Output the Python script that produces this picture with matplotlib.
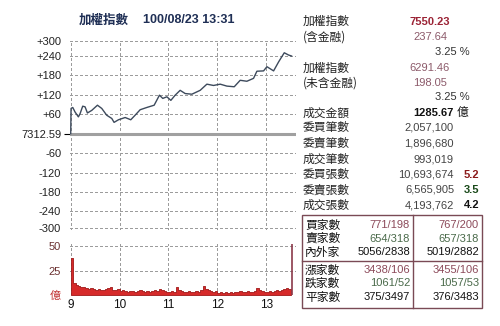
import matplotlib
matplotlib.use("Agg")
import matplotlib.pyplot as plt
from matplotlib.patches import Rectangle
from matplotlib.lines import Line2D
import numpy as np

# index line: minutes after 9:00 and change vs. previous close (7312.59)
idx_min = [0, 0.4, 2.5, 5.3, 9.4, 11.5, 14.7, 17.6, 20.5, 25.8, 32.8, 38.1, 44.2,
           50.4, 53.2, 58.6, 66.8, 73.7, 79.0, 85.2, 93.4, 102.4, 108.9, 113.0,
           118.0, 122.9, 128.2, 134.3, 140.5, 148.7, 158.9, 167.1, 175.3, 183.5,
           191.7, 200.7, 208.0, 216.2, 224.4, 228.5, 236.7, 240.8, 249.0, 255.2,
           262.1, 267.4, 271.0]
idx_chg = [0, 78, 81, 67, 52, 62, 85, 83, 64, 72, 88, 78, 57, 47, 35, 43, 50, 43,
           57, 74, 81, 88, 119, 109, 114, 103, 119, 134, 124, 122, 134, 153, 149,
           153, 147, 145, 165, 162, 171, 193, 194, 207, 194, 222, 250, 243, 240]

# volume (億) in 3-minute steps from 9:00, plus closing auction
vol = [38, 12, 10, 9, 8, 8, 7, 6, 7, 6,
       5, 6, 5, 5, 6, 7, 8, 5, 5, 6,
       4, 5, 4, 3, 4, 4, 3, 4, 5, 4,
       3, 4, 3, 4, 5, 4, 6, 5, 4, 3,
       3, 4, 3, 8, 5, 4, 3, 3, 4, 3,
       3, 4, 3, 5, 9, 6, 5, 4, 3, 4,
       2, 3, 2, 3, 2, 3, 2, 3, 3, 4,
       3, 3, 4, 3, 3, 4, 7, 5, 4, 3,
       3, 4, 3, 4, 5, 4, 5, 6, 7, 6]
close_vol = 52
close_min = 271

prev_close = "7312.59"
up_ticks = [287, 240, 180, 120, 60, 0, -60, -120, -180, -240, -292]
up_labels = ["+300", "+240", "+180", "+120", "+60", prev_close,
             "-60", "-120", "-180", "-240", "-300"]
hour_pos = [0, 60, 120, 180, 240]
hours = ["9", "10", "11", "12", "13"]

quote_rows = [("加權指數", "7550.23"), ("(含金融)", "237.64"), ("", "3.25 %"),
              ("加權指數", "6291.46"), ("(未含金融)", "198.05"), ("", "3.25 %")]
count_rows = [("委買筆數", "2,057,100", ""), ("委賣筆數", "1,896,680", ""),
              ("成交筆數", "993,019", ""), ("委買張數", "10,693,674", "5.2"),
              ("委賣張數", "6,565,905", "3.5"), ("成交張數", "4,193,762", "4.2")]
box_rows = [("買家數", "771/198", "767/200"), ("賣家數", "654/318", "657/318"),
            ("內外家", "5056/2838", "5019/2882"), ("漲家數", "3438/106", "3455/106"),
            ("跌家數", "1061/52", "1057/53"), ("平家數", "375/3497", "376/3483")]

W, H = 500, 326
CJK = ["Noto Sans CJK TC", "DejaVu Sans"]
NUM = "Liberation Sans"
GRID = "#9c9c9c"

fig = plt.figure(figsize=(W / 100, H / 100), dpi=100)
fig.patch.set_facecolor("white")


def px(x, y):
    return x / W, 1 - y / H


def ax_at(l, t, r, b):
    return fig.add_axes([l / W, 1 - b / H, (r - l) / W, (b - t) / H])


def dashed_grid(a, xs, ys):
    x0, x1 = a.get_xlim()
    y0, y1 = a.get_ylim()
    for x in xs:
        a.plot([x, x], [y0, y1], color=GRID, lw=1.0, ls="--", dashes=(2, 1.6),
               antialiased=False, zorder=2)
    for y in ys:
        a.plot([x0, x1], [y, y], color=GRID, lw=1.0, ls="--", dashes=(2, 1.6),
               antialiased=False, zorder=2)
    a.set_xlim(x0, x1)
    a.set_ylim(y0, y1)


# ---- upper panel: index line
ax = ax_at(69.5, 39.5, 296, 229.5)
ax.set_xlim(-1.5, 276.5)
ax.set_ylim(-296, 291)
for s in ax.spines.values():
    s.set_visible(False)
ax.set_xticks([])
ax.set_yticks(up_ticks)
ax.set_yticklabels(up_labels, fontsize=8, family=NUM, color="#222222")
ax.tick_params(axis="y", length=0, pad=6)
ax.yaxis.get_major_ticks()[5].tick1line.set_markersize(4)
ax.yaxis.get_major_ticks()[5].tick1line.set_color("#333333")
dashed_grid(ax, hour_pos, [t for t in up_ticks if t != 0])
ax.axhline(0, color="#a0a0a0", lw=2.2, zorder=3)
ax.plot(idx_min, idx_chg, color="#3d4a5c", lw=1.0, zorder=4)

# ---- lower panel: volume
bx = ax_at(69.5, 244, 296, 295)
bx.set_xlim(-1.5, 276.5)
bx.set_ylim(0, 52.5)
for s in bx.spines.values():
    s.set_visible(False)
dashed_grid(bx, hour_pos, [25, 50])
vt = np.arange(len(vol)) * 3
bx.fill_between(np.append(vt, vt[-1] + 3), np.append(vol, vol[-1]), step="post",
                color="#d62a2a", lw=0.6, edgecolor="#a01818", zorder=3)
bx.vlines(close_min, 0, close_vol, color="#8b3a4a", lw=1.2, zorder=3)
bx.set_xticks(hour_pos)
bx.set_xticklabels(hours, fontsize=8.5, family=NUM, color="#111111")
bx.set_yticks([0, 25, 50])
bx.set_yticklabels(["億", "25", "50"], fontsize=8, family=NUM, color="#6a3030")
bx.get_yticklabels()[0].set_family(CJK)
bx.get_yticklabels()[0].set_color("#c03030")
bx.tick_params(axis="x", length=0, pad=3)
bx.tick_params(axis="y", length=0, pad=6)

# ---- title
fig.text(*px(79, 20), "加權指數", family=CJK, fontsize=9, fontweight="bold",
         color="#1f2f55", va="center", ha="left")
fig.text(*px(143, 20), "100/08/23 13:31", family=NUM, fontsize=9,
         fontweight="bold", color="#1f2f55", va="center", ha="left")

# ---- right side quotes
LX = 302.7
qy = [21.7, 36.7, 51.7, 68.3, 83.3, 96.7]
qcol = ["#9b2335", "#8c5a6a", "#333333", "#8c5a6a", "#8c5a6a", "#333333"]
for i, (lab, val) in enumerate(quote_rows):
    if lab:
        fig.text(*px(LX, qy[i]), lab, family=CJK, fontsize=8.5, color="#222222",
                 va="center", ha="left")
    if val.endswith("%"):
        fig.text(*px(470, qy[i]), val, family=NUM, fontsize=8, color=qcol[i],
                 va="center", ha="right")
    else:
        fig.text(*px(430, qy[i]), val, family=NUM, fontsize=8, color=qcol[i],
                 va="center", ha="center", fontweight="bold" if i == 0 else "normal")

fig.text(*px(LX, 113), "成交金額", family=CJK, fontsize=8.5, color="#222222",
         va="center", ha="left")
fig.text(*px(454, 113), "1285.67", family=NUM, fontsize=8, color="#111111",
         va="center", ha="right", fontweight="bold")
fig.text(*px(457, 113), "億", family=CJK, fontsize=8.5, color="#111111",
         va="center", ha="left")

cy = [128, 143.5, 159, 174.5, 190, 205.5]
ccol = {"5.2": "#8b1a1a", "3.5": "#1a4a1a", "4.2": "#111111"}
for i, (lab, val, r) in enumerate(count_rows):
    fig.text(*px(LX, cy[i]), lab, family=CJK, fontsize=8.5, color="#222222",
             va="center", ha="left")
    fig.text(*px(454, cy[i]), val, family=NUM, fontsize=8, color="#444444",
             va="center", ha="right")
    if r:
        fig.text(*px(464, cy[i]), r, family=NUM, fontsize=8, color=ccol[r],
                 va="center", ha="left", fontweight="bold")

# ---- box
bl, bt, br, bb = 302, 214.5, 482, 307.5
fig.patches.append(Rectangle(px(bl, bb), (br - bl) / W, (bb - bt) / H,
                             transform=fig.transFigure, fill=False,
                             ec="#7a4a55", lw=1.0))
fig.lines.append(Line2D([bl / W, br / W], [1 - 261 / H] * 2,
                        transform=fig.transFigure, color="#7a4a55", lw=1.0))
fig.lines.append(Line2D([413 / W] * 2, [1 - bt / H, 1 - bb / H],
                        transform=fig.transFigure, color="#7a4a55", lw=1.0))
by = [225, 238.5, 252, 270, 283.5, 297]
bcol = ["#8c4a5a", "#4a6a4a", "#111111", "#8c4a5a", "#4a6a4a", "#111111"]
for i, (lab, v1, v2) in enumerate(box_rows):
    fig.text(*px(305, by[i]), lab, family=CJK, fontsize=8.5, color="#111111",
             va="center", ha="left")
    fig.text(*px(410, by[i]), v1, family=NUM, fontsize=8, color=bcol[i],
             va="center", ha="right")
    fig.text(*px(479, by[i]), v2, family=NUM, fontsize=8, color=bcol[i],
             va="center", ha="right")

fig.savefig("out.png", dpi=100)
